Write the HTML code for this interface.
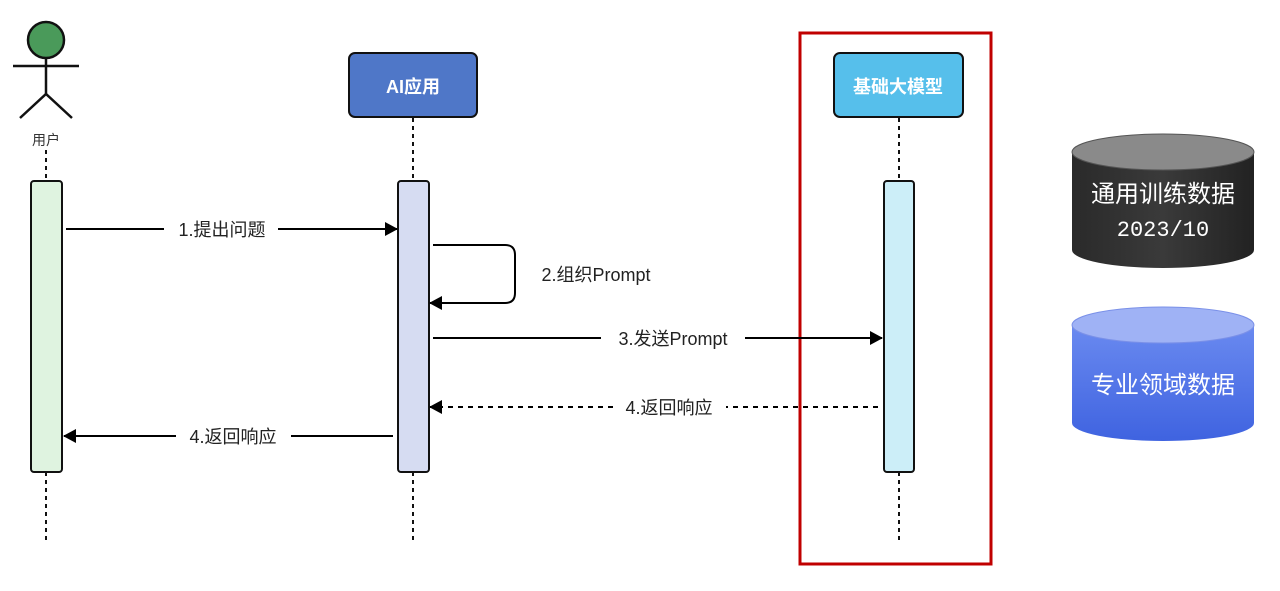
<!DOCTYPE html>
<html><head><meta charset="utf-8"><style>
html,body{margin:0;padding:0;background:#fff;width:1280px;height:591px;overflow:hidden}
text{font-family:"Liberation Sans","Noto Sans CJK SC",sans-serif}
</style></head><body>
<svg width="1280" height="591" viewBox="0 0 1280 591" xmlns="http://www.w3.org/2000/svg">
<defs>
<marker id="ah" markerWidth="14" markerHeight="14" refX="12" refY="7" orient="auto" markerUnits="userSpaceOnUse">
<path d="M0,0 L13,7 L0,14 z" fill="#000"/></marker>
<linearGradient id="gd" x1="0" x2="1" y1="0" y2="0"><stop offset="0" stop-color="#2a2a2a"/><stop offset="0.5" stop-color="#3a3a3a"/><stop offset="1" stop-color="#222"/></linearGradient>
<linearGradient id="gb" x1="0" x2="0" y1="0" y2="1"><stop offset="0" stop-color="#6a8af0"/><stop offset="1" stop-color="#3f63e0"/></linearGradient>
</defs>
<circle cx="46" cy="40" r="18" fill="#4A9A5A" stroke="#111" stroke-width="2.5"/>
<g stroke="#111" stroke-width="2.5" fill="none">
<line x1="13" y1="66" x2="79" y2="66"/><line x1="46" y1="58" x2="46" y2="94"/>
<polyline points="20,118 46,94 72,118"/></g>
<text x="46" y="145" font-size="14" text-anchor="middle" fill="#333">用户</text>
<g stroke="#111" stroke-width="2" stroke-dasharray="4,4">
<line x1="46" y1="150" x2="46" y2="181"/><line x1="46" y1="472" x2="46" y2="540"/>
<line x1="413" y1="118" x2="413" y2="181"/><line x1="413" y1="472" x2="413" y2="540"/>
<line x1="899" y1="118" x2="899" y2="181"/><line x1="899" y1="472" x2="899" y2="540"/>
</g>
<rect x="349" y="53" width="128" height="64" rx="6" fill="#4F77C8" stroke="#111" stroke-width="2"/>
<text x="413" y="93" font-size="18" font-weight="bold" text-anchor="middle" fill="#fff">AI应用</text>
<rect x="834" y="53" width="129" height="64" rx="6" fill="#56BFEB" stroke="#111" stroke-width="2"/>
<text x="898" y="93" font-size="18" font-weight="bold" text-anchor="middle" fill="#fff">基础大模型</text>
<rect x="31" y="181" width="31" height="291" rx="3" fill="#DFF3E0" stroke="#111" stroke-width="2"/>
<rect x="398" y="181" width="31" height="291" rx="3" fill="#D6DCF2" stroke="#111" stroke-width="2"/>
<rect x="884" y="181" width="30" height="291" rx="3" fill="#CCEEF8" stroke="#111" stroke-width="2"/>
<rect x="800" y="33" width="191" height="531" fill="none" stroke="#C00000" stroke-width="3"/>
<g stroke="#000" stroke-width="2" fill="none">
<line x1="66" y1="229" x2="164" y2="229"/><line x1="278" y1="229" x2="397" y2="229" marker-end="url(#ah)"/>
<path d="M433,245 H505 Q515,245 515,255 V293 Q515,303 505,303 H430" marker-end="url(#ah)"/>
<line x1="433" y1="338" x2="601" y2="338"/><line x1="745" y1="338" x2="882" y2="338" marker-end="url(#ah)"/>
<line x1="878" y1="407" x2="726" y2="407" stroke-dasharray="5,5"/><line x1="613" y1="407" x2="430" y2="407" stroke-dasharray="5,5" marker-end="url(#ah)"/>
<line x1="393" y1="436" x2="291" y2="436"/><line x1="176" y1="436" x2="64" y2="436" marker-end="url(#ah)"/>
</g>
<g font-size="18" fill="#222" text-anchor="middle">
<text x="222" y="236">1.提出问题</text>
<text x="596" y="281">2.组织Prompt</text>
<text x="673" y="345">3.发送Prompt</text>
<text x="669" y="414">4.返回响应</text>
<text x="233" y="443">4.返回响应</text>
</g>
<path d="M1072,152 V250 A91,18 0 0 0 1254,250 V152 Z" fill="url(#gd)"/>
<ellipse cx="1163" cy="152" rx="91" ry="18" fill="#8a8a8a" stroke="#555"/>
<text x="1163" y="202" font-size="24" text-anchor="middle" fill="#fff">通用训练数据</text>
<text x="1163" y="236" font-size="22" text-anchor="middle" fill="#fff" style="font-family:'Liberation Mono',monospace">2023/10</text>
<path d="M1072,325 V423 A91,18 0 0 0 1254,423 V325 Z" fill="url(#gb)"/>
<ellipse cx="1163" cy="325" rx="91" ry="18" fill="#9fb2f5" stroke="#7a90e8"/>
<text x="1163" y="393" font-size="24" text-anchor="middle" fill="#fff">专业领域数据</text>
</svg>
</body></html>
